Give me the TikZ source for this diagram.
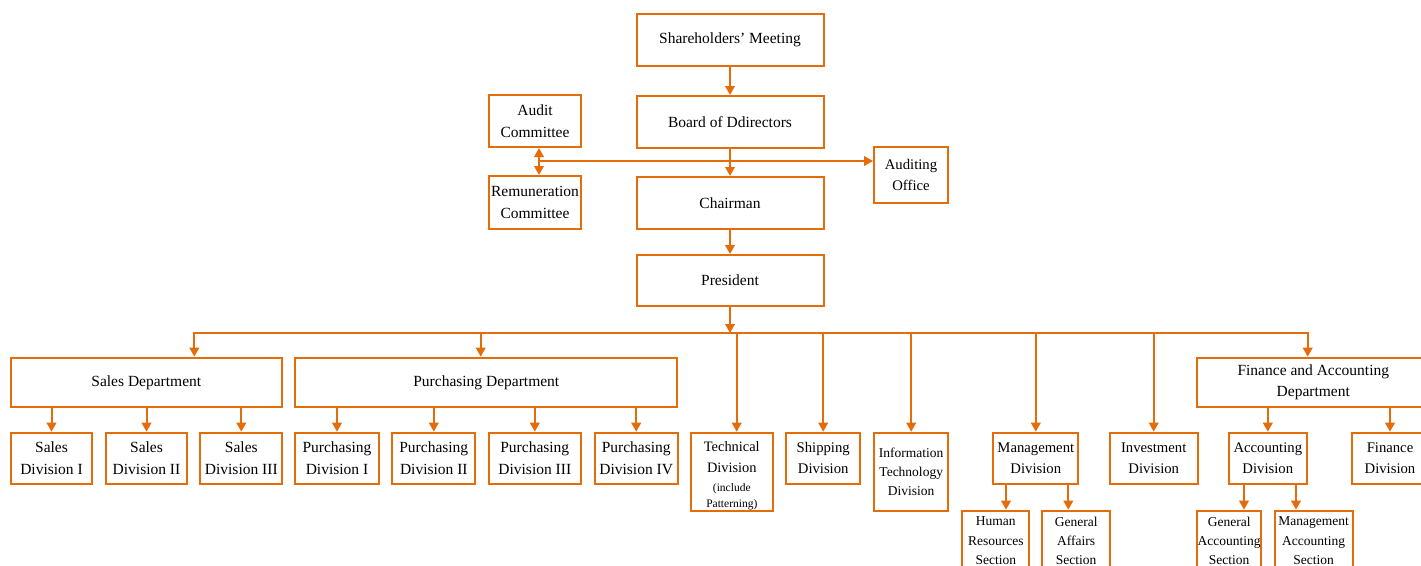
\documentclass[tikz,border=0pt]{standalone}
\usepackage{fontspec}
\setmainfont{Liberation Serif}
\usetikzlibrary{arrows.meta}
\definecolor{org}{RGB}{228,108,10}
\newcommand{\fsz}[2]{\fontsize{#1}{#2}\selectfont}

\begin{document}
\begin{tikzpicture}[x=1pt,y=-1pt,
  box/.style={draw=org, line width=2pt, inner sep=0pt, align=center,
    text=black, font=\fsz{15.5}{21.5}},
  mid/.style={font=\fsz{14.7}{21.5}},
  small/.style={font=\fsz{13.5}{19.2}},
  link/.style={draw=org, line width=2pt},
  tip/.tip={Triangle[length=9pt,width=9.5pt]},
  arr/.style={link, -tip},
  both/.style={link, tip-tip},
]
\clip (0,0) rectangle (1421,565);

% governance column
\node[box, minimum width=187pt, minimum height=52pt] (sh) at (730,40) {Shareholders’ Meeting};
\node[box, minimum width=187pt, minimum height=52pt] (bd) at (730,122) {Board of Ddirectors};
\node[box, minimum width=187pt, minimum height=52pt] (ch) at (730,203) {Chairman};
\node[box, minimum width=187pt, minimum height=51pt] (pr) at (730,280.5) {President};

\node[box, minimum width=92pt, minimum height=52pt] (audc) at (535,121) {Audit\\Committee};
\node[box, minimum width=92pt, minimum height=53pt] (remc) at (535,202.5) {Remuneration\\Committee};
\node[box, mid, minimum width=74pt, minimum height=56pt] (audo) at (911,175) {Auditing\\Office};

% departments
\node[box, minimum width=271.3pt, minimum height=49.6pt] (sales) at (146.3,382.5) {Sales Department};
\node[box, minimum width=382pt, minimum height=49.6pt] (purch) at (486.3,382.5) {Purchasing Department};
\node[box, minimum width=232pt, minimum height=49.6pt] (fad) at (1313.3,382.5) {Finance and Accounting\\Department};

% divisions
\node[box, minimum width=81.6pt, minimum height=51pt] (sd1) at (51.5,458.2) {Sales\\Division I};
\node[box, minimum width=81.6pt, minimum height=51pt] (sd2) at (146.5,458.2) {Sales\\Division II};
\node[box, minimum width=82pt, minimum height=51pt] (sd3) at (241.3,458.2) {Sales\\Division III};
\node[box, minimum width=83.4pt, minimum height=51pt] (pd1) at (337,458.2) {Purchasing\\Division I};
\node[box, minimum width=83pt, minimum height=51pt] (pd2) at (433.8,458.2) {Purchasing\\Division II};
\node[box, minimum width=91.7pt, minimum height=51pt] (pd3) at (534.8,458.2) {Purchasing\\Division III};
\node[box, minimum width=83pt, minimum height=51pt] (pd4) at (636.2,458.2) {Purchasing\\Division IV};
\node[box, minimum width=81.7pt, minimum height=78pt, text height=74pt, font=\fsz{14.4}{20.7}] (tech) at (731.8,471.7)
  {Technical\\Division\\[-1.7pt]{\fsz{11.5}{16}(include}\\[-4.7pt]{\fsz{11.5}{16}Patterning)}};
\node[box, mid, minimum width=74.3pt, minimum height=51pt] (ship) at (823.2,458.2) {Shipping\\Division};
\node[box, small, minimum width=74.3pt, minimum height=78pt] (itd) at (911.2,471.7) {Information\\Technology\\Division};
\node[box, mid, minimum width=85pt, minimum height=51pt] (mgmt) at (1035.8,458.2) {Management\\Division};
\node[box, mid, minimum width=88pt, minimum height=51pt] (inv) at (1153.7,458.2) {Investment\\Division};
\node[box, mid, minimum width=77.7pt, minimum height=51pt] (acc) at (1267.8,458.2) {Accounting\\Division};
\node[box, mid, minimum width=75.4pt, minimum height=51pt] (fin) at (1390,458.2) {Finance\\Division};

% sections
\node[box, small, minimum width=67pt, minimum height=60pt] (hr) at (995.8,540.7) {Human\\Resources\\Section};
\node[box, small, minimum width=67.7pt, minimum height=60pt] (ga) at (1076.2,540.7) {General\\Affairs\\Section};
\node[box, small, minimum width=63.7pt, minimum height=60pt] (gacc) at (1229.2,540.7) {General\\Accounting\\Section};
\node[box, small, minimum width=78pt, minimum height=60pt] (macc) at (1313.7,540.7) {Management\\Accounting\\Section};

% governance links
\draw[arr] (sh) -- (bd);
\draw[arr] (bd) -- (ch);
\draw[arr] (ch) -- (pr);
\coordinate (j) at (539,161);
\draw[both] (audc.south -| j) -- (remc.north -| j);
\draw[arr] (j) -- (audo.west |- j);

% bus under the president
\coordinate (bus) at (730,333);
\draw[arr] (pr) -- (bus);
\coordinate (b1) at (194.3,333);
\coordinate (b2) at (480.7,333);
\coordinate (b3) at (736.7,333);
\coordinate (b8) at (1307.7,333);
\draw[link, line cap=rect] (b1) -- (b8);
\draw[arr] (b1) -- (b1 |- sales.north);
\draw[arr] (b2) -- (b2 |- purch.north);
\draw[arr] (b3) -- (b3 |- tech.north);
\draw[arr] (ship.north |- bus) -- (ship.north);
\draw[arr] (itd.north |- bus) -- (itd.north);
\draw[arr] (mgmt.north |- bus) -- (mgmt.north);
\draw[arr] (inv.north |- bus) -- (inv.north);
\draw[arr] (b8) -- (b8 |- fad.north);

% department to division links
\foreach \c in {sd1,sd2,sd3} \draw[arr] (\c.north |- sales.south) -- (\c.north);
\foreach \c in {pd1,pd2,pd3,pd4} \draw[arr] (\c.north |- purch.south) -- (\c.north);
\draw[arr] (acc.north |- fad.south) -- (acc.north);
\draw[arr] (fin.north |- fad.south) -- (fin.north);

% division to section links
\coordinate (hrx) at ([xshift=10.2pt]hr.north);
\coordinate (gax) at ([xshift=-7.9pt]ga.north);
\coordinate (gaccx) at ([xshift=14.8pt]gacc.north);
\coordinate (maccx) at ([xshift=-17.7pt]macc.north);
\draw[arr] (hrx |- mgmt.south) -- (hrx);
\draw[arr] (gax |- mgmt.south) -- (gax);
\draw[arr] (gaccx |- acc.south) -- (gaccx);
\draw[arr] (maccx |- acc.south) -- (maccx);
\end{tikzpicture}
\end{document}
